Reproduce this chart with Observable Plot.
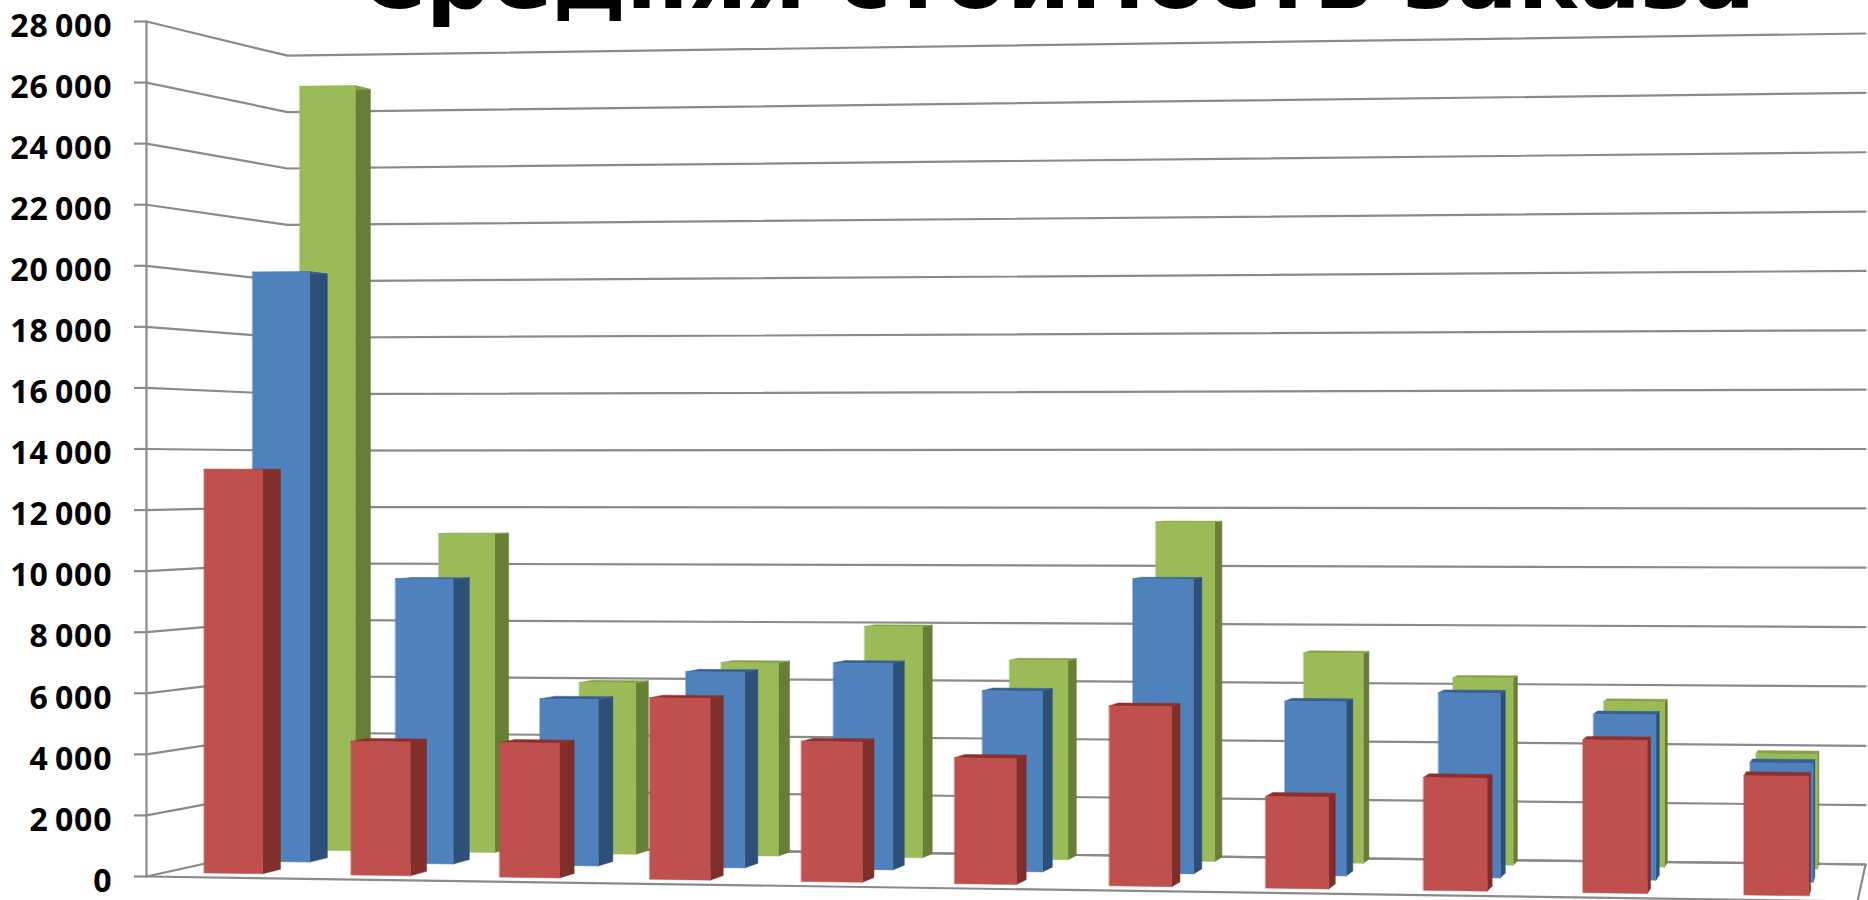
<!DOCTYPE html>
<html lang="ru">
<head>
<meta charset="utf-8">
<script src="https://cdn.jsdelivr.net/npm/d3@7"></script>
<script src="https://cdn.jsdelivr.net/npm/@observablehq/plot@0.6"></script>
<style>
  html, body { margin: 0; padding: 0; background: #fff; overflow: hidden; }
  #wrap { position: relative; width: 1868px; height: 900px; overflow: hidden; }
  #title { position: absolute; left: 0; width: 2114px; top: -78px; margin: 0; text-align: center;
           font: 700 91px/1.2 "DejaVu Sans", sans-serif; color: #000; white-space: nowrap; }
  #wrap svg { display: block; position: absolute; left: 0; top: 0; background: transparent; }
  .ticklabels text { letter-spacing: 0.9px; }
</style>
</head>
<body>
<div id="wrap">
<script>
const titleText = "Средняя стоимость заказа";
const yTicks = [0, 2000, 4000, 6000, 8000, 10000, 12000, 14000, 16000, 18000, 20000, 22000, 24000, 26000, 28000];
const redValues   = [13320, 4390, 4400, 5910, 4540, 4060, 5780, 2930, 3590, 4840, 3760];
const blueValues  = [20020, 9620, 5600, 6550, 6880, 5990, 9730, 5720, 6040, 5380, 3850];
const greenValues = [26710, 11080, 5930, 6650, 7920, 6790, 11530, 7100, 6290, 5530, 3820];

// Chart-space geometry of the 3-D box: u along the categories, d into the depth.
const xBack = [0.0824, 1.0047];
const xBackBars = [0.0784, 1.0047];
const floorFront = [0, -819];
const floorBack = [1015, 393];
const scaleFront = [1, 1.052];
const scaleBack = [0.9238, 0.9719];
const lerp = (a, b, t) => a + (b - a) * t;
function project(u, d, v, back = xBack) {
  return {
    x: lerp(u, lerp(back[0], back[1], u), d),
    y: lerp(lerp(floorFront[0], floorFront[1], u), lerp(floorBack[0], floorBack[1], u), d)
       + v * lerp(lerp(scaleFront[0], scaleFront[1], u), lerp(scaleBack[0], scaleBack[1], u), d)
  };
}
const barPoint = (u, d, v) => project(u, d, v, xBackBars);
const categoryU = t => 0.0248 + 0.0862 * t + 0.00046 * t * t;
const barSpan = 0.4;

function quad(id, a, b, c, e) { // edge a-b is the base, edge c-e the top
  return [
    {id, x1: a.x, y1: a.y, x2: c.x, y2: c.y},
    {id, x1: b.x, y1: b.y, x2: e.x, y2: e.y}
  ];
}
const series = [
  {values: greenValues, d1: 0.85, d2: 0.97, front: "#9BBB59", side: "#677E37", top: "#86A34A"},
  {values: blueValues,  d1: 0.49, d2: 0.63, front: "#4F81BD", side: "#2C5078", top: "#37608F"},
  {values: redValues,   d1: 0.12, d2: 0.26, front: "#C0504D", side: "#7F2E2C", top: "#8E2F2C"}
];
const barMarks = series.flatMap(s => {
  const fronts = [], sides = [], tops = [];
  s.values.forEach((v, i) => {
    const u1 = categoryU(i), u2 = categoryU(i + barSpan);
    fronts.push(...quad(i, barPoint(u1, s.d1, 0), barPoint(u2, s.d1, 0), barPoint(u1, s.d1, v), barPoint(u2, s.d1, v)));
    sides.push(...quad(i, barPoint(u2, s.d1, 0), barPoint(u2, s.d2, 0), barPoint(u2, s.d1, v), barPoint(u2, s.d2, v)));
    tops.push(...quad(i, barPoint(u1, s.d1, v), barPoint(u2, s.d1, v), barPoint(u1, s.d2, v), barPoint(u2, s.d2, v)));
  });
  const area = (rows, fill) => Plot.area(rows, {x1: "x1", y1: "y1", x2: "x2", y2: "y2", z: "id", fill, stroke: fill, strokeWidth: 0.5, curve: "linear"});
  return [area(sides, s.side), area(tops, s.top), area(fronts, s.front)];
});

const gridRows = yTicks.flatMap(v => [project(0, 0, v), project(0, 1, v), project(1, 1, v)].map(p => ({...p, v})));
const floorEdge = [project(0, 1, 0), project(1, 1, 0), project(1, 0, 0), project(0, 0, 0)];
const axisEdge = [project(0, 0, 0), project(0, 0, 28000)];
const grey = "#8a8a8a";

const chart = Plot.plot({
  width: 1868, height: 900,
  marginLeft: 146, marginRight: 11, marginTop: 21, marginBottom: 24,
  x: {domain: [0, 1], axis: null},
  y: {domain: [0, 28000], axis: null},
  style: {background: "transparent"},
  marks: [
    Plot.line(gridRows, {x: "x", y: "y", z: "v", stroke: grey, strokeWidth: 2.2, curve: "linear"}),
    Plot.line(floorEdge, {x: "x", y: "y", stroke: grey, strokeWidth: 2.2, curve: "linear"}),
    Plot.line(axisEdge, {x: "x", y: "y", stroke: grey, strokeWidth: 2.2, curve: "linear"}),
    Plot.axisY(yTicks, {anchor: "left", tickSize: 12, stroke: grey, strokeWidth: 2.2, text: null}),
    ...barMarks,
    Plot.axisY(yTicks, {
      anchor: "left", tickSize: 0, tickPadding: 34, dy: 5, fill: "#000", className: "ticklabels",
      fontSize: 32, fontWeight: 700, fontFamily: "'Open Sans', sans-serif",
      tickFormat: d => d3.format(",")(d).replace(",", "\u2009")
    })
  ]
});
const title = document.createElement("div");
title.id = "title";
title.textContent = titleText;
const wrap = document.getElementById("wrap");
wrap.appendChild(chart);
wrap.appendChild(title);
</script>
</div>
</body>
</html>
